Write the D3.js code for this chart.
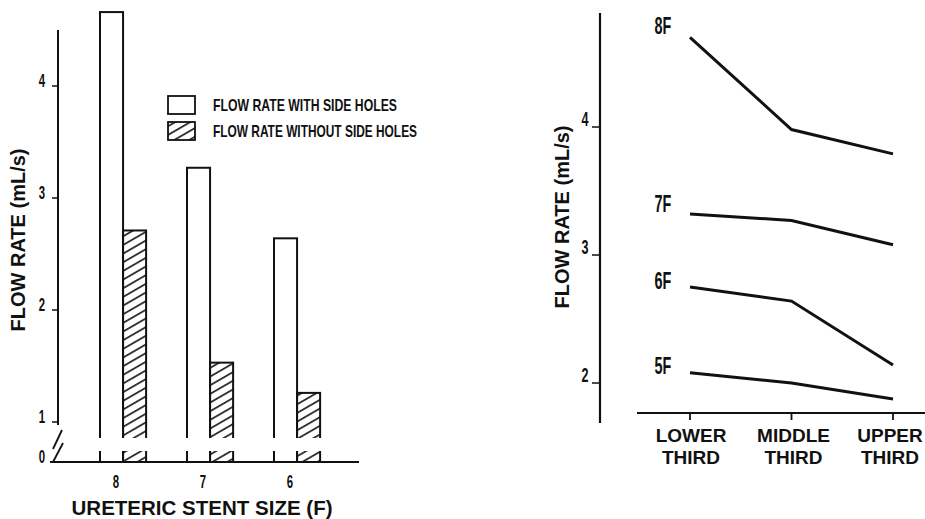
<!DOCTYPE html>
<html lang="en">
<head>
    <meta charset="UTF-8">
    <title>Flow rate</title>
    <style>
        body { margin: 0; background: #fff; }
        svg text { font-family: "Liberation Sans", Arial, sans-serif; fill: #111; }
    </style>
</head>
<body>
<script src="https://d3js.org/d3.v7.min.js"></script>
<script>
    // left panel data
    var stentSizes = ["8", "7", "6"];
    var withHoles = [4.66, 3.27, 2.64];
    var withoutHoles = [2.71, 1.53, 1.26];
    var leftTicks = [0, 1, 2, 3, 4];
    var legendLabels = ["FLOW RATE WITH SIDE HOLES", "FLOW RATE WITHOUT SIDE HOLES"];

    // right panel data
    var regions = [["LOWER", "THIRD"], ["MIDDLE", "THIRD"], ["UPPER", "THIRD"]];
    var sizeLabels = ["8F", "7F", "6F", "5F"];
    var flow8F = [4.70, 3.98, 3.79];
    var flow7F = [3.32, 3.27, 3.08];
    var flow6F = [2.75, 2.64, 2.14];
    var flow5F = [2.08, 2.00, 1.875];
    var rightTicks = [2, 3, 4];

    var width = 925, height = 519;
    var svg = d3.select("body").append("svg")
        .attr("width", width)
        .attr("height", height);

    // hatch pattern
    var defs = svg.append("defs");
    defs.append("pattern")
        .attr("id", "hatch")
        .attr("patternUnits", "userSpaceOnUse")
        .attr("width", 10).attr("height", 7.5)
        .attr("patternTransform", "rotate(-30)")
        .append("line")
        .attr("x1", 0).attr("x2", 10)
        .attr("y1", 3.7).attr("y2", 3.7)
        .attr("stroke", "#111").attr("stroke-width", 1.6);

    // ---------- left: bar chart ----------
    var baseY = 462;
    // broken axis: 0 sits below the break
    var yL = d3.scaleLinear().domain([0, 1, 4.5]).range([baseY, 422, 30]);

    var x0 = d3.scaleBand().domain(stentSizes)
        .range([100, 100 + 87 * (3 - 0.47)])
        .paddingInner(0.47).paddingOuter(0);
    var x1 = d3.scaleBand().domain(["with", "without"])
        .range([0, x0.bandwidth()]);

    var left = svg.append("g");

    var bars = [];
    stentSizes.forEach(function (s, i) {
        bars.push({size: s, key: "with", value: withHoles[i]});
        bars.push({size: s, key: "without", value: withoutHoles[i]});
    });

    left.selectAll("rect.bar")
        .data(bars)
        .enter()
        .append("rect")
        .attr("class", "bar")
        .attr("x", function (d) { return x0(d.size) + x1(d.key); })
        .attr("y", function (d) { return yL(d.value); })
        .attr("width", x1.bandwidth())
        .attr("height", function (d) { return baseY - yL(d.value); })
        .attr("fill", function (d) { return d.key == "with" ? "#fff" : "url(#hatch)"; })
        .attr("stroke", "#111")
        .attr("stroke-width", 2);

    // white gap for the axis break
    left.append("rect")
        .attr("x", 62).attr("y", 438)
        .attr("width", 280).attr("height", 13)
        .attr("fill", "#fff");

    // y axis line (above the break)
    left.append("line")
        .attr("x1", 58).attr("x2", 58)
        .attr("y1", yL(4.5)).attr("y2", 425)
        .attr("stroke", "#111").attr("stroke-width", 2);

    // baseline
    left.append("line")
        .attr("x1", 50).attr("x2", 359)
        .attr("y1", baseY).attr("y2", baseY)
        .attr("stroke", "#111").attr("stroke-width", 2);

    // break marks
    left.append("line")
        .attr("x1", 53).attr("y1", 449).attr("x2", 62).attr("y2", 430)
        .attr("stroke", "#111").attr("stroke-width", 1.8);
    left.append("line")
        .attr("x1", 53).attr("y1", 462).attr("x2", 63).attr("y2", 443)
        .attr("stroke", "#111").attr("stroke-width", 1.8);

    // y ticks
    left.selectAll("line.ytick")
        .data(leftTicks.filter(function (t) { return t > 0; }))
        .enter()
        .append("line")
        .attr("class", "ytick")
        .attr("x1", 52).attr("x2", 58)
        .attr("y1", function (d) { return yL(d); })
        .attr("y2", function (d) { return yL(d); })
        .attr("stroke", "#111").attr("stroke-width", 1.5);

    left.selectAll("text.ytick")
        .data(leftTicks)
        .enter()
        .append("text")
        .attr("class", "ytick")
        .attr("transform", function (d) { return "translate(42," + (yL(d) + 1) + ") scale(0.6,1)"; })
        .attr("text-anchor", "middle")
        .attr("font-size", 19)
        .attr("font-weight", "bold")
        .text(function (d) { return d; });

    // x tick labels
    left.selectAll("text.xtick")
        .data(stentSizes)
        .enter()
        .append("text")
        .attr("class", "xtick")
        .attr("transform", function (d) { return "translate(" + (x0(d) + 16) + ",488) scale(0.6,1)"; })
        .attr("text-anchor", "middle")
        .attr("font-size", 19)
        .attr("font-weight", "bold")
        .text(function (d) { return d; });

    left.append("text")
        .attr("x", 202).attr("y", 515)
        .attr("text-anchor", "middle")
        .attr("font-size", 20)
        .attr("font-weight", "bold")
        .attr("textLength", 261)
        .attr("lengthAdjust", "spacingAndGlyphs")
        .text("URETERIC STENT SIZE (F)");

    left.append("text")
        .attr("transform", "translate(25,240) rotate(-90)")
        .attr("text-anchor", "middle")
        .attr("font-size", 20)
        .attr("font-weight", "bold")
        .text("FLOW RATE (mL/s)");

    // legend
    var legend = left.selectAll("g.legend")
        .data(legendLabels)
        .enter()
        .append("g")
        .attr("class", "legend")
        .attr("transform", function (d, i) { return "translate(168," + (96 + i * 26) + ")"; });

    legend.append("rect")
        .attr("width", 27).attr("height", 18)
        .attr("fill", function (d, i) { return i == 0 ? "#fff" : "url(#hatch)"; })
        .attr("stroke", "#111").attr("stroke-width", 1.8);

    legend.append("text")
        .attr("x", 45).attr("y", 15)
        .attr("font-size", 17)
        .attr("font-weight", "bold")
        .attr("textLength", function (d, i) { return i == 0 ? 184 : 204; })
        .attr("lengthAdjust", "spacingAndGlyphs")
        .text(function (d) { return d; });

    // ---------- right: line chart ----------
    var xR = d3.scalePoint().domain(regions.map(function (r) { return r[0]; }))
        .range([690, 893]);
    var yR = d3.scaleLinear().domain([2, 4]).range([383, 127]);

    var right = svg.append("g");

    right.append("line")
        .attr("x1", 600).attr("x2", 600)
        .attr("y1", 13).attr("y2", 423)
        .attr("stroke", "#111").attr("stroke-width", 2.2);

    right.append("line")
        .attr("x1", 637).attr("x2", 925)
        .attr("y1", 413).attr("y2", 413)
        .attr("stroke", "#111").attr("stroke-width", 2);

    right.selectAll("line.ytick")
        .data(rightTicks)
        .enter()
        .append("line")
        .attr("class", "ytick")
        .attr("x1", 592).attr("x2", 600)
        .attr("y1", function (d) { return yR(d); })
        .attr("y2", function (d) { return yR(d); })
        .attr("stroke", "#111").attr("stroke-width", 1.5);

    right.selectAll("text.ytick")
        .data(rightTicks)
        .enter()
        .append("text")
        .attr("class", "ytick")
        .attr("transform", function (d) { return "translate(585," + (yR(d) - 1) + ") scale(0.6,1)"; })
        .attr("text-anchor", "middle")
        .attr("font-size", 21)
        .attr("font-weight", "bold")
        .text(function (d) { return d; });

    right.selectAll("line.xtick")
        .data(regions)
        .enter()
        .append("line")
        .attr("class", "xtick")
        .attr("x1", function (d) { return xR(d[0]); })
        .attr("x2", function (d) { return xR(d[0]); })
        .attr("y1", 413).attr("y2", 420)
        .attr("stroke", "#111").attr("stroke-width", 1.8);

    // the last label sits against the right edge
    var labelShift = [1, 2, -3];
    var xlab = right.selectAll("text.xlab")
        .data(regions)
        .enter()
        .append("text")
        .attr("class", "xlab")
        .attr("text-anchor", "middle")
        .attr("font-size", 19)
        .attr("font-weight", "bold");
    xlab.append("tspan")
        .attr("x", function (d, i) { return xR(d[0]) + labelShift[i]; })
        .attr("y", 442)
        .text(function (d) { return d[0]; });
    xlab.append("tspan")
        .attr("x", function (d, i) { return xR(d[0]) + labelShift[i]; })
        .attr("y", 464)
        .text(function (d) { return d[1]; });

    right.append("text")
        .attr("transform", "translate(569,217) rotate(-90)")
        .attr("text-anchor", "middle")
        .attr("font-size", 20)
        .attr("font-weight", "bold")
        .text("FLOW RATE (mL/s)");

    var series = [flow8F, flow7F, flow6F, flow5F];
    var line = d3.line()
        .x(function (d, i) { return xR(regions[i][0]); })
        .y(function (d) { return yR(d); });

    right.selectAll("path.series")
        .data(series)
        .enter()
        .append("path")
        .attr("class", "series")
        .attr("d", line)
        .attr("fill", "none")
        .attr("stroke", "#111")
        .attr("stroke-width", 3);

    var labelY = [25, 203, 280, 365];
    right.selectAll("text.slabel")
        .data(sizeLabels)
        .enter()
        .append("text")
        .attr("class", "slabel")
        .attr("transform", function (d, i) { return "translate(663," + (labelY[i] + 9) + ") scale(0.6,1)"; })
        .attr("text-anchor", "middle")
        .attr("font-size", 24)
        .attr("font-weight", "bold")
        .text(function (d) { return d; });
</script>
</body>
</html>
